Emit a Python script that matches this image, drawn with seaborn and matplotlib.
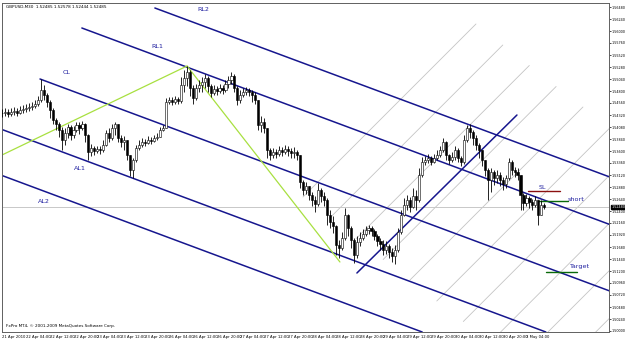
import matplotlib
matplotlib.use("Agg")
import matplotlib.pyplot as plt
import seaborn as sns
import numpy as np

# ---------------- data (GBPUSD M30, one candle per hour) ----------------
close = [1.5436,1.5438,1.5434,1.5438,1.5440,1.5436,1.5442,1.5444,1.5446,1.5448,1.5450,1.5454,1.5462,
         1.5482,1.5472,1.5458,1.5442,1.5422,1.5414,1.5402,1.5382,1.5396,1.5408,1.5392,1.5402,1.5412,
         1.5406,1.5414,1.5392,1.5358,1.5366,1.5360,1.5364,1.5362,1.5372,1.5396,1.5386,1.5406,1.5414,
         1.5386,1.5378,1.5382,1.5352,1.5322,1.5342,1.5366,1.5372,1.5378,1.5376,1.5382,1.5380,1.5386,
         1.5388,1.5402,1.5406,1.5458,1.5462,1.5458,1.5464,1.5460,1.5492,1.5506,1.5518,1.5486,1.5466,
         1.5486,1.5492,1.5498,1.5506,1.5490,1.5476,1.5484,1.5480,1.5486,1.5482,1.5494,1.5502,1.5510,
         1.5486,1.5462,1.5472,1.5478,1.5482,1.5478,1.5472,1.5462,1.5412,1.5418,1.5406,1.5362,1.5352,
         1.5358,1.5354,1.5362,1.5358,1.5364,1.5360,1.5356,1.5358,1.5352,1.5298,1.5282,1.5290,1.5272,
         1.5262,1.5254,1.5282,1.5270,1.5262,1.5232,1.5218,1.5210,1.5172,1.5166,1.5186,1.5232,1.5206,
         1.5182,1.5152,1.5178,1.5186,1.5194,1.5202,1.5206,1.5200,1.5190,1.5180,1.5174,1.5162,1.5170,
         1.5158,1.5150,1.5162,1.5198,1.5232,1.5252,1.5262,1.5248,1.5270,1.5262,1.5312,1.5338,1.5342,
         1.5346,1.5338,1.5346,1.5352,1.5362,1.5378,1.5352,1.5342,1.5348,1.5362,1.5346,1.5338,1.5382,
         1.5406,1.5398,1.5386,1.5372,1.5362,1.5342,1.5322,1.5302,1.5318,1.5306,1.5312,1.5302,1.5294,
         1.5306,1.5338,1.5322,1.5318,1.5312,1.5272,1.5256,1.5266,1.5258,1.5252,1.5262,1.5232,1.5252,
         1.5248]
high = [1.5444,1.5446,1.5444,1.5446,1.5448,1.5446,1.5450,1.5452,1.5454,1.5456,1.5458,1.5462,1.5470,
        1.5504,1.5492,1.5476,1.5462,1.5446,1.5426,1.5418,1.5408,1.5406,1.5414,1.5412,1.5410,1.5418,
        1.5418,1.5420,1.5416,1.5394,1.5374,1.5370,1.5370,1.5370,1.5382,1.5402,1.5406,1.5414,1.5418,
        1.5414,1.5392,1.5390,1.5382,1.5352,1.5346,1.5372,1.5382,1.5386,1.5384,1.5390,1.5388,1.5392,
        1.5396,1.5408,1.5412,1.5466,1.5468,1.5468,1.5470,1.5468,1.5508,1.5522,1.5530,1.5522,1.5492,
        1.5494,1.5502,1.5508,1.5514,1.5510,1.5494,1.5492,1.5490,1.5494,1.5492,1.5502,1.5510,1.5518,
        1.5514,1.5490,1.5482,1.5486,1.5488,1.5486,1.5482,1.5478,1.5462,1.5430,1.5426,1.5406,1.5366,
        1.5366,1.5364,1.5370,1.5368,1.5372,1.5370,1.5366,1.5368,1.5362,1.5352,1.5302,1.5298,1.5290,
        1.5278,1.5270,1.5296,1.5286,1.5278,1.5266,1.5242,1.5230,1.5212,1.5182,1.5198,1.5246,1.5234,
        1.5210,1.5186,1.5190,1.5198,1.5204,1.5210,1.5212,1.5210,1.5204,1.5194,1.5186,1.5182,1.5180,
        1.5174,1.5166,1.5172,1.5206,1.5242,1.5266,1.5272,1.5268,1.5286,1.5282,1.5326,1.5348,1.5350,
        1.5354,1.5350,1.5354,1.5362,1.5370,1.5386,1.5380,1.5354,1.5358,1.5370,1.5366,1.5350,1.5392,
        1.5412,1.5414,1.5402,1.5392,1.5376,1.5362,1.5342,1.5326,1.5326,1.5322,1.5322,1.5318,1.5308,
        1.5312,1.5346,1.5342,1.5328,1.5326,1.5312,1.5276,1.5274,1.5270,1.5264,1.5270,1.5262,1.5262,
        1.5256]
low = [1.5428,1.5430,1.5428,1.5430,1.5432,1.5430,1.5434,1.5436,1.5438,1.5440,1.5442,1.5446,1.5450,
       1.5458,1.5462,1.5448,1.5426,1.5414,1.5402,1.5388,1.5362,1.5372,1.5386,1.5382,1.5386,1.5398,
       1.5394,1.5402,1.5378,1.5342,1.5350,1.5352,1.5356,1.5354,1.5358,1.5370,1.5378,1.5382,1.5392,
       1.5378,1.5368,1.5362,1.5342,1.5310,1.5306,1.5338,1.5362,1.5368,1.5370,1.5374,1.5374,1.5378,
       1.5382,1.5390,1.5400,1.5406,1.5454,1.5452,1.5454,1.5454,1.5456,1.5478,1.5490,1.5470,1.5454,
       1.5462,1.5478,1.5478,1.5486,1.5478,1.5468,1.5472,1.5472,1.5476,1.5474,1.5478,1.5486,1.5494,
       1.5478,1.5452,1.5456,1.5468,1.5472,1.5470,1.5458,1.5454,1.5402,1.5398,1.5396,1.5346,1.5342,
       1.5346,1.5346,1.5350,1.5350,1.5354,1.5350,1.5346,1.5346,1.5342,1.5286,1.5272,1.5274,1.5262,
       1.5250,1.5238,1.5250,1.5258,1.5250,1.5212,1.5206,1.5196,1.5152,1.5146,1.5162,1.5182,1.5190,
       1.5166,1.5136,1.5146,1.5170,1.5182,1.5190,1.5194,1.5190,1.5182,1.5170,1.5162,1.5152,1.5154,
       1.5146,1.5138,1.5134,1.5158,1.5194,1.5230,1.5242,1.5238,1.5246,1.5242,1.5258,1.5308,1.5332,
       1.5336,1.5332,1.5336,1.5342,1.5348,1.5358,1.5342,1.5334,1.5338,1.5342,1.5338,1.5330,1.5334,
       1.5378,1.5386,1.5372,1.5362,1.5346,1.5330,1.5310,1.5262,1.5278,1.5292,1.5296,1.5290,1.5282,
       1.5286,1.5302,1.5312,1.5308,1.5302,1.5242,1.5242,1.5250,1.5246,1.5242,1.5248,1.5212,1.5238,
       1.5244]
first_open = 1.5436

time_labels = ["21 Apr 2010", "22 Apr 04:00", "22 Apr 12:00", "22 Apr 20:00", "23 Apr 04:00",
               "23 Apr 12:00", "23 Apr 20:00", "26 Apr 04:00", "26 Apr 12:00", "26 Apr 20:00",
               "27 Apr 04:00", "27 Apr 12:00", "27 Apr 20:00", "28 Apr 04:00", "28 Apr 12:00",
               "28 Apr 20:00", "29 Apr 04:00", "29 Apr 12:00", "29 Apr 20:00", "30 Apr 04:00",
               "30 Apr 12:00", "30 Apr 20:00", "3 May 04:00"]
price_ticks = [round(1.5648 - 0.0024 * k, 4) for k in range(28)]

# pitchfork lines: (x_start, price_start, x_end, price_end) in candle units
fork_names = ["RL2", "RL1", "CL", "AL1", "AL2"]
fork_x0 = [51.3, 26.8, 12.75, 0.0, 0.0]
fork_p0 = [1.5646, 1.5606, 1.5504, 1.5403, 1.5311]
fork_x1 = [204.4, 204.4, 204.4, 182.5, 141.0]
fork_p1 = [1.5307, 1.5212, 1.5079, 1.4998, 1.4998]

green_x = [0.0, 62.1, 113.4]
green_p = [1.5352, 1.5530, 1.5138]

steep_x = [119.1, 172.8]
steep_p = [1.5116, 1.5432]

# light grey parallel segments: start points (candle units, price), common extent
grey_x0 = [101.0, 110.0, 118.9, 127.9, 136.9, 145.9, 154.8, 163.8, 172.8, 181.8]
grey_p0 = [1.5268, 1.5226, 1.5185, 1.5143, 1.5102, 1.5060, 1.5019, 1.4977, 1.4936, 1.4894]
grey_dx = 58.05
grey_dp = 0.0346

level_names = ["SL", "short", "Target"]
level_x0 = [176.5, 179.9, 182.6]
level_x1 = [187.2, 189.9, 193.0]
level_p = [1.5280, 1.5260, 1.5118]
level_colors = ["#8b1010", "#0a6a0a", "#0a6a0a"]
last_price = 1.5248

# ---------------- drawing ----------------
sns.set_style("white")
plt.rcParams['font.family'] = ['DejaVu Sans']

fig = plt.figure(figsize=(6.25, 3.39), dpi=100)
AX_W = 607
ax = fig.add_axes([2/625, 7/339, AX_W/625, 329/339])
XMAX = AX_W/2.98
YMIN, YMAX = 1.4998, 1.5656
ax.set_xlim(0, XMAX)
ax.set_ylim(YMIN, YMAX)

navy = "#16168e"
for gx, gp in zip(grey_x0, grey_p0):
    sns.lineplot(x=[gx, gx + grey_dx], y=[gp, gp + grey_dp], color="#c4c4c4", lw=0.6, ax=ax)

ax.axhline(last_price, color="#c8c8c8", lw=0.7)

for i in range(5):
    sns.lineplot(x=[fork_x0[i], fork_x1[i]], y=[fork_p0[i], fork_p1[i]], color=navy, lw=1.1, ax=ax)
for i in range(2):
    sns.lineplot(x=green_x[i:i+2], y=green_p[i:i+2], color="#a8e040", lw=0.9, ax=ax)
sns.lineplot(x=steep_x, y=steep_p, color=navy, lw=1.1, ax=ax)

# candles
n = len(close)
xs = np.arange(n)
opens = np.array([first_open] + close[:-1])
c = np.array(close)
h = np.maximum.reduce([np.array(high), opens, c])
l = np.minimum.reduce([np.array(low), opens, c])
ax.vlines(xs, l, h, color="black", lw=0.6, zorder=5)
bull = c >= opens
body_b = np.minimum(opens, c)
body_h = np.maximum(np.abs(c - opens), 0.00008)
ax.bar(xs[bull], body_h[bull], bottom=body_b[bull], width=0.7, color="white",
       edgecolor="black", linewidth=0.4, zorder=6)
ax.bar(xs[~bull], body_h[~bull], bottom=body_b[~bull], width=0.7, color="black",
       edgecolor="black", linewidth=0.4, zorder=6)

# level lines
for i in range(3):
    ax.plot([level_x0[i], level_x1[i]], [level_p[i]] * 2, color=level_colors[i], lw=1.0)

# labels
lab_col = "#2020a0"
txt = [("RL2", 67.4, 1.5644), ("RL1", 52.3, 1.5570), ("CL", 21.5, 1.5516),
       ("AL1", 26.2, 1.5326), ("AL2", 14.1, 1.5260), ("SL", 181.5, 1.5288),
       ("short", 192.6, 1.5264), ("Target", 193.6, 1.5130)]
for s, x, y in txt:
    ax.text(x, y, s, color=lab_col, fontsize=4.6, ha="center", va="center")

ax.text(0.006, 0.993, "GBPUSD,M30  1.52485 1.52578 1.52444 1.52485", transform=ax.transAxes,
        fontsize=3.0, ha="left", va="top", color="black")
ax.text(0.006, 0.012, "FxPro MT4, \u00a9 2001-2009 MetaQuotes Software Corp.", transform=ax.transAxes,
        fontsize=3.0, ha="left", va="bottom", color="black")

# axes formatting
ax.yaxis.tick_right()
ax.set_yticks(price_ticks)
ax.set_yticklabels([f"{p:.5f}" for p in price_ticks])
ax.set_xticks([8 * k for k in range(len(time_labels))])
ax.set_xticklabels(time_labels, ha="left")
ax.tick_params(axis="y", labelsize=2.4, length=1.2, width=0.5, pad=0.5, colors="black")
ax.tick_params(axis="x", labelsize=2.7, length=1.5, width=0.5, pad=0.4, colors="black")
for sp in ax.spines.values():
    sp.set_color("#606060")
    sp.set_linewidth(0.7)

# last price box
ax.text(1.004, (last_price - YMIN) / (YMAX - YMIN), f"{last_price:.5f}", transform=ax.transAxes,
        fontsize=2.4, color="white", ha="left", va="center",
        bbox=dict(boxstyle="square,pad=0.1", fc="black", ec="black"))

fig.savefig("out.png", dpi=100, facecolor="white")
